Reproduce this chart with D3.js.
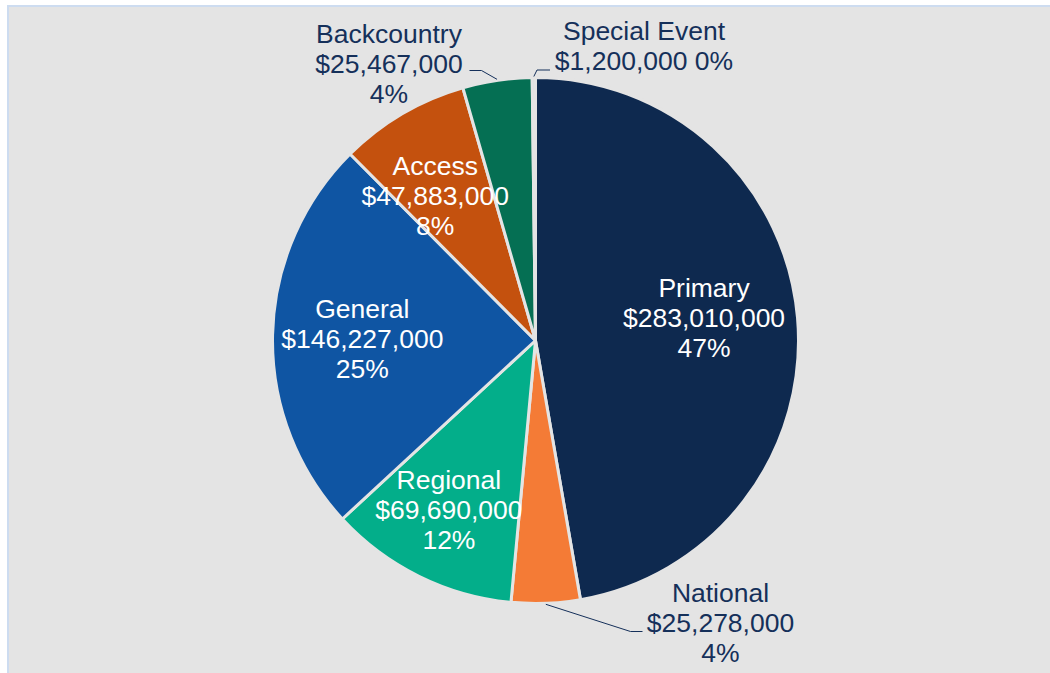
<!DOCTYPE html>
<html>
<head>
<meta charset="utf-8">
<script src="https://cdn.jsdelivr.net/npm/d3@7/dist/d3.min.js"></script>
<style>
  html, body { margin: 0; padding: 0; background: #ffffff; }
  svg { display: block; }
  text { font-family: "Liberation Sans", Arial, sans-serif; }
</style>
</head>
<body>
<svg id="chart" width="1050" height="673"></svg>
<script>
// Funding by program category
const categories = ["Primary", "National", "Regional", "General", "Access", "Backcountry", "Special Event"];
const amounts = [283010000, 25278000, 69690000, 146227000, 47883000, 25467000, 1200000];
const percentLabels = ["47%", "4%", "12%", "25%", "8%", "4%", "0%"];
const sliceColors = ["#0e294f", "#f47b36", "#03ae8a", "#0f55a3", "#c4510e", "#056f53", "#d9d9d9"];

// Categories whose labels sit outside the pie with a leader line
const outsideLabels = ["National", "Backcountry", "Special Event"];

const W = 1050, H = 673;
const cx = 535.5, cy = 340.5, R = 263;
const bg = "#e4e4e4";
const fontSize = 26.5, lineGap = 30;
const darkText = "#15305a";

const svg = d3.select("#chart");

// panel with thin blue frame on top/left
svg.append("rect").attr("x", 7).attr("y", 5).attr("width", W - 7).attr("height", H - 5).attr("fill", "#cddcf0");
svg.append("rect").attr("x", 9).attr("y", 7).attr("width", W - 9).attr("height", H - 7).attr("fill", bg);

const data = categories.map((c, i) => ({ name: c, value: amounts[i], pct: percentLabels[i], color: sliceColors[i] }));

const pie = d3.pie().value(d => d.value).sort(null);
const arcs = pie(data);
const arc = d3.arc().innerRadius(0).outerRadius(R);
const labelArc = d3.arc().innerRadius(R * 0.67).outerRadius(R * 0.67);
const rimArc = d3.arc().innerRadius(R + 1).outerRadius(R + 1);

const g = svg.append("g").attr("transform", `translate(${cx},${cy})`);

g.selectAll("path.slice")
  .data(arcs)
  .join("path")
  .attr("class", "slice")
  .attr("d", arc)
  .attr("fill", d => d.data.color)
  .attr("stroke", bg)
  .attr("stroke-width", 3)
  .attr("stroke-linejoin", "round");

// small adjustments of the inside label blocks away from the plain centroid
const insideNudge = {
  "Primary":  [-7, -7.5],
  "General":  [3, 2],
  "Access":   [-11, 7.5],
  "Regional": [-8.5, 11.5]
};

// inside labels
const inside = arcs.filter(d => !outsideLabels.includes(d.data.name));
inside.forEach(d => {
  const [x0, y0] = labelArc.centroid(d);
  const n = insideNudge[d.data.name] || [0, 0];
  const x = x0 + n[0], y = y0 + n[1];
  const lines = [d.data.name, d3.format("$,")(d.data.value), d.data.pct];
  const t = g.append("text")
    .attr("text-anchor", "middle")
    .attr("fill", "#ffffff")
    .attr("font-size", fontSize);
  lines.forEach((s, k) => {
    t.append("tspan").attr("x", x).attr("y", y + 9 + (k - 1) * lineGap).text(s);
  });
});

// outside labels: elbow and text block positions relative to the pie centre
const calloutLayout = {
  "National":      { elbow: [95, 291], end: [107, 291], textX: 185, firstBase: 261 },
  "Backcountry":   { elbow: [-54, -270], end: [-66, -270], textX: -146.5, firstBase: -297.5 },
  "Special Event": { elbow: [1.5, -270.5], end: [14.5, -270.5], textX: 108.5, firstBase: -300.5 }
};

arcs.filter(d => outsideLabels.includes(d.data.name)).forEach(d => {
  const L = calloutLayout[d.data.name];
  const start = rimArc.centroid(d);
  g.append("polyline")
    .attr("points", [start, L.elbow, L.end].map(p => p.join(",")).join(" "))
    .attr("fill", "none")
    .attr("stroke", darkText)
    .attr("stroke-width", 1);
  const money = d3.format("$,")(d.data.value);
  const lines = d.data.name === "Special Event"
    ? [d.data.name, money + " " + d.data.pct]
    : [d.data.name, money, d.data.pct];
  const t = g.append("text")
    .attr("text-anchor", "middle")
    .attr("fill", darkText)
    .attr("font-size", fontSize);
  lines.forEach((s, k) => {
    t.append("tspan").attr("x", L.textX).attr("y", L.firstBase + k * lineGap).text(s);
  });
});
</script>
</body>
</html>
